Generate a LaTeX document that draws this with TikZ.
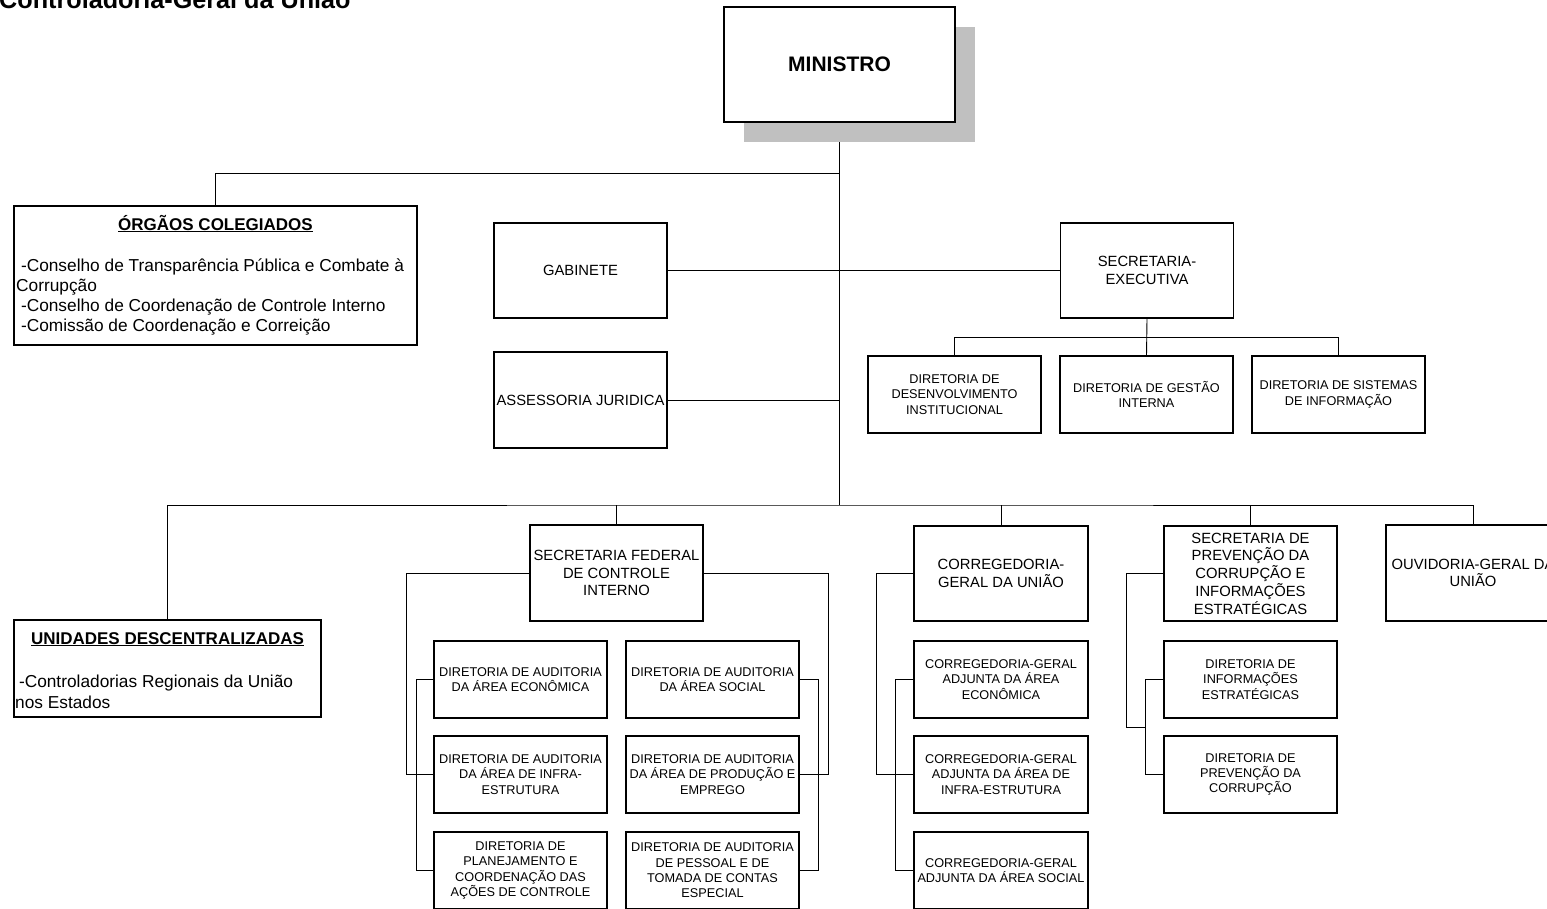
\documentclass[tikz,border=0pt]{standalone}
\usepackage{fontspec}
\setmainfont{Liberation Sans}
\usetikzlibrary{backgrounds}
\definecolor{shadowgray}{RGB}{192,192,192}
\begin{document}
\begin{tikzpicture}[x=1pt,y=-1pt,
  box/.style={draw, line width=1.2pt, fill=white, inner sep=0pt, align=center},
  hd/.style={box, font=\fontsize{14.8}{17.7}\selectfont, minimum width=173pt, minimum height=96pt},
  sb/.style={box, font=\fontsize{12.7}{15.3}\selectfont, minimum width=173pt, minimum height=77pt},
  txt/.style={inner sep=0pt, anchor=base west, font=\fontsize{17.3}{20}\selectfont},
  ttl/.style={inner sep=0pt, anchor=base, font=\bfseries\fontsize{17}{20}\selectfont},
  conn/.style={line width=0.9pt}]
\useasboundingbox (0,0) rectangle (1547,908);

% title
\node[inner sep=0pt, anchor=base west, font=\bfseries\fontsize{25.2}{30}\selectfont] (title) at (-1,8.5) {Controladoria-Geral da União};

% ministro
\node[fill=shadowgray, minimum width=231pt, minimum height=115pt, inner sep=0pt] (minsh) at (859,84) {};
\node[box, font=\bfseries\fontsize{21}{25}\selectfont, minimum width=231pt, minimum height=115pt] (min) at (839.5,64.5) {MINISTRO};

% orgaos colegiados
\node[box, minimum width=403pt, minimum height=139pt] (org) at (215.5,275.5) {};
\node[ttl] (orgT) at (215.5,230) {\underline{ÓRGÃOS COLEGIADOS}};
\node[txt] (orgL1) at (16,271) {\ -Conselho de Transparência Pública e Combate à};
\node[txt] (orgL2) at (16,291) {Corrupção};
\node[txt] (orgL3) at (16,311.5) {\ -Conselho de Coordenação de Controle Interno};
\node[txt] (orgL4) at (16,331.5) {\ -Comissão de Coordenação e Correição};

% gabinete, assessoria, secretaria-executiva
\node[hd, minimum height=95pt] (gab) at (580.5,270.5) {GABINETE};
\node[hd] (ass) at (580.5,400) {ASSESSORIA JURIDICA};
\node[hd, minimum height=95pt] (sec) at (1147,270.5) {SECRETARIA-\\EXECUTIVA};
\node[sb] (ddi) at (954.5,394.5) {DIRETORIA DE\\DESENVOLVIMENTO\\INSTITUCIONAL};
\node[sb] (dgi) at (1146.5,394.5) {DIRETORIA DE GESTÃO\\INTERNA};
\node[sb] (dsi) at (1338.5,394.5) {DIRETORIA DE SISTEMAS\\DE INFORMAÇÃO};

% unidades descentralizadas
\node[box, minimum width=307pt, minimum height=97pt] (uni) at (167.5,668.5) {};
\node[ttl] (uniT) at (167.5,644) {\underline{UNIDADES DESCENTRALIZADAS}};
\node[txt] (uniL1) at (14,687) {\ -Controladorias Regionais da União};
\node[txt] (uniL2) at (15,708) {nos Estados};

% secretaria federal de controle interno
\node[hd] (sfci) at (616.5,573) {SECRETARIA FEDERAL\\DE CONTROLE\\INTERNO};
\node[sb] (eA) at (520.5,679.5) {DIRETORIA DE AUDITORIA\\DA ÁREA ECONÔMICA};
\node[sb] (eB) at (520.5,774.5) {DIRETORIA DE AUDITORIA\\DA ÁREA DE INFRA-\\ESTRUTURA};
\node[sb] (eC) at (520.5,870.5) {DIRETORIA DE\\PLANEJAMENTO E\\COORDENAÇÃO DAS\\AÇÕES DE CONTROLE};
\node[sb] (eD) at (712.5,679.5) {DIRETORIA DE AUDITORIA\\DA ÁREA SOCIAL};
\node[sb] (eE) at (712.5,774.5) {DIRETORIA DE AUDITORIA\\DA ÁREA DE PRODUÇÃO E\\EMPREGO};
\node[sb] (eF) at (712.5,870.5) {DIRETORIA DE AUDITORIA\\DE PESSOAL E DE\\TOMADA DE CONTAS\\ESPECIAL};

% corregedoria
\node[hd, minimum width=174pt, minimum height=95pt] (cgu) at (1001,573.5) {CORREGEDORIA-\\GERAL DA UNIÃO};
\node[sb, minimum width=174pt] (c1) at (1001,679.5) {CORREGEDORIA-GERAL\\ADJUNTA DA ÁREA\\ECONÔMICA};
\node[sb, minimum width=174pt] (c2) at (1001,774.5) {CORREGEDORIA-GERAL\\ADJUNTA DA ÁREA DE\\INFRA-ESTRUTURA};
\node[sb, minimum width=174pt] (c3) at (1001,870.5) {CORREGEDORIA-GERAL\\ADJUNTA DA ÁREA SOCIAL};

% secretaria de prevencao
\node[hd, minimum height=95pt] (spc) at (1250.5,573.5) {SECRETARIA DE\\PREVENÇÃO DA\\CORRUPÇÃO E\\INFORMAÇÕES\\ESTRATÉGICAS};
\node[sb] (p1) at (1250.5,679.5) {DIRETORIA DE\\INFORMAÇÕES\\ESTRATÉGICAS};
\node[sb] (p2) at (1250.5,774.5) {DIRETORIA DE\\PREVENÇÃO DA\\CORRUPÇÃO};

% ouvidoria
\node[hd, minimum width=174pt] (ouv) at (1473,573) {OUVIDORIA-GERAL DA\\UNIÃO};

% junction coordinates
\coordinate (bus) at (839.5,505);
\coordinate (jorg) at (839.5,173);
\coordinate (sbus) at (1147,337.5);
\coordinate (sl) at (406,573);
\coordinate (sli) at (416,679.5);
\coordinate (sr) at (828,573);
\coordinate (sri) at (818,679.5);
\coordinate (cl) at (876,573.5);
\coordinate (cli) at (895,679.5);
\coordinate (pl) at (1126,573.5);
\coordinate (pm) at (1145,727);
\coordinate (pli) at (1145,679.5);

\begin{scope}[on background layer]
\draw[conn] (min.south) -- (bus);
\draw[conn] (org.north) |- (jorg);
\draw[conn] (gab.east) -- (sec.west);
\draw[conn] (ass.east) -- (ass.east -| bus);
\draw[conn] (sec.south) -- (dgi.north);
\draw[conn] (ddi.north) |- (sbus) -| (dsi.north);
\draw[conn] (uni.north) |- (bus) -| (ouv.north);
\draw[conn] (sfci.north) -- (sfci.north |- bus);
\draw[conn] (cgu.north) -- (cgu.north |- bus);
\draw[conn] (spc.north) -- (spc.north |- bus);
\draw[conn] (sfci.west) -- (sl) |- (eB.west);
\draw[conn] (eA.west) -- (sli) |- (eC.west);
\draw[conn] (sfci.east) -- (sr) |- (eE.east);
\draw[conn] (eD.east) -- (sri) |- (eF.east);
\draw[conn] (cgu.west) -- (cl) |- (c2.west);
\draw[conn] (c1.west) -- (cli) |- (c3.west);
\draw[conn] (spc.west) -- (pl) |- (pm);
\draw[conn] (p1.west) -- (pli) |- (p2.west);
\end{scope}
\end{tikzpicture}
\end{document}
